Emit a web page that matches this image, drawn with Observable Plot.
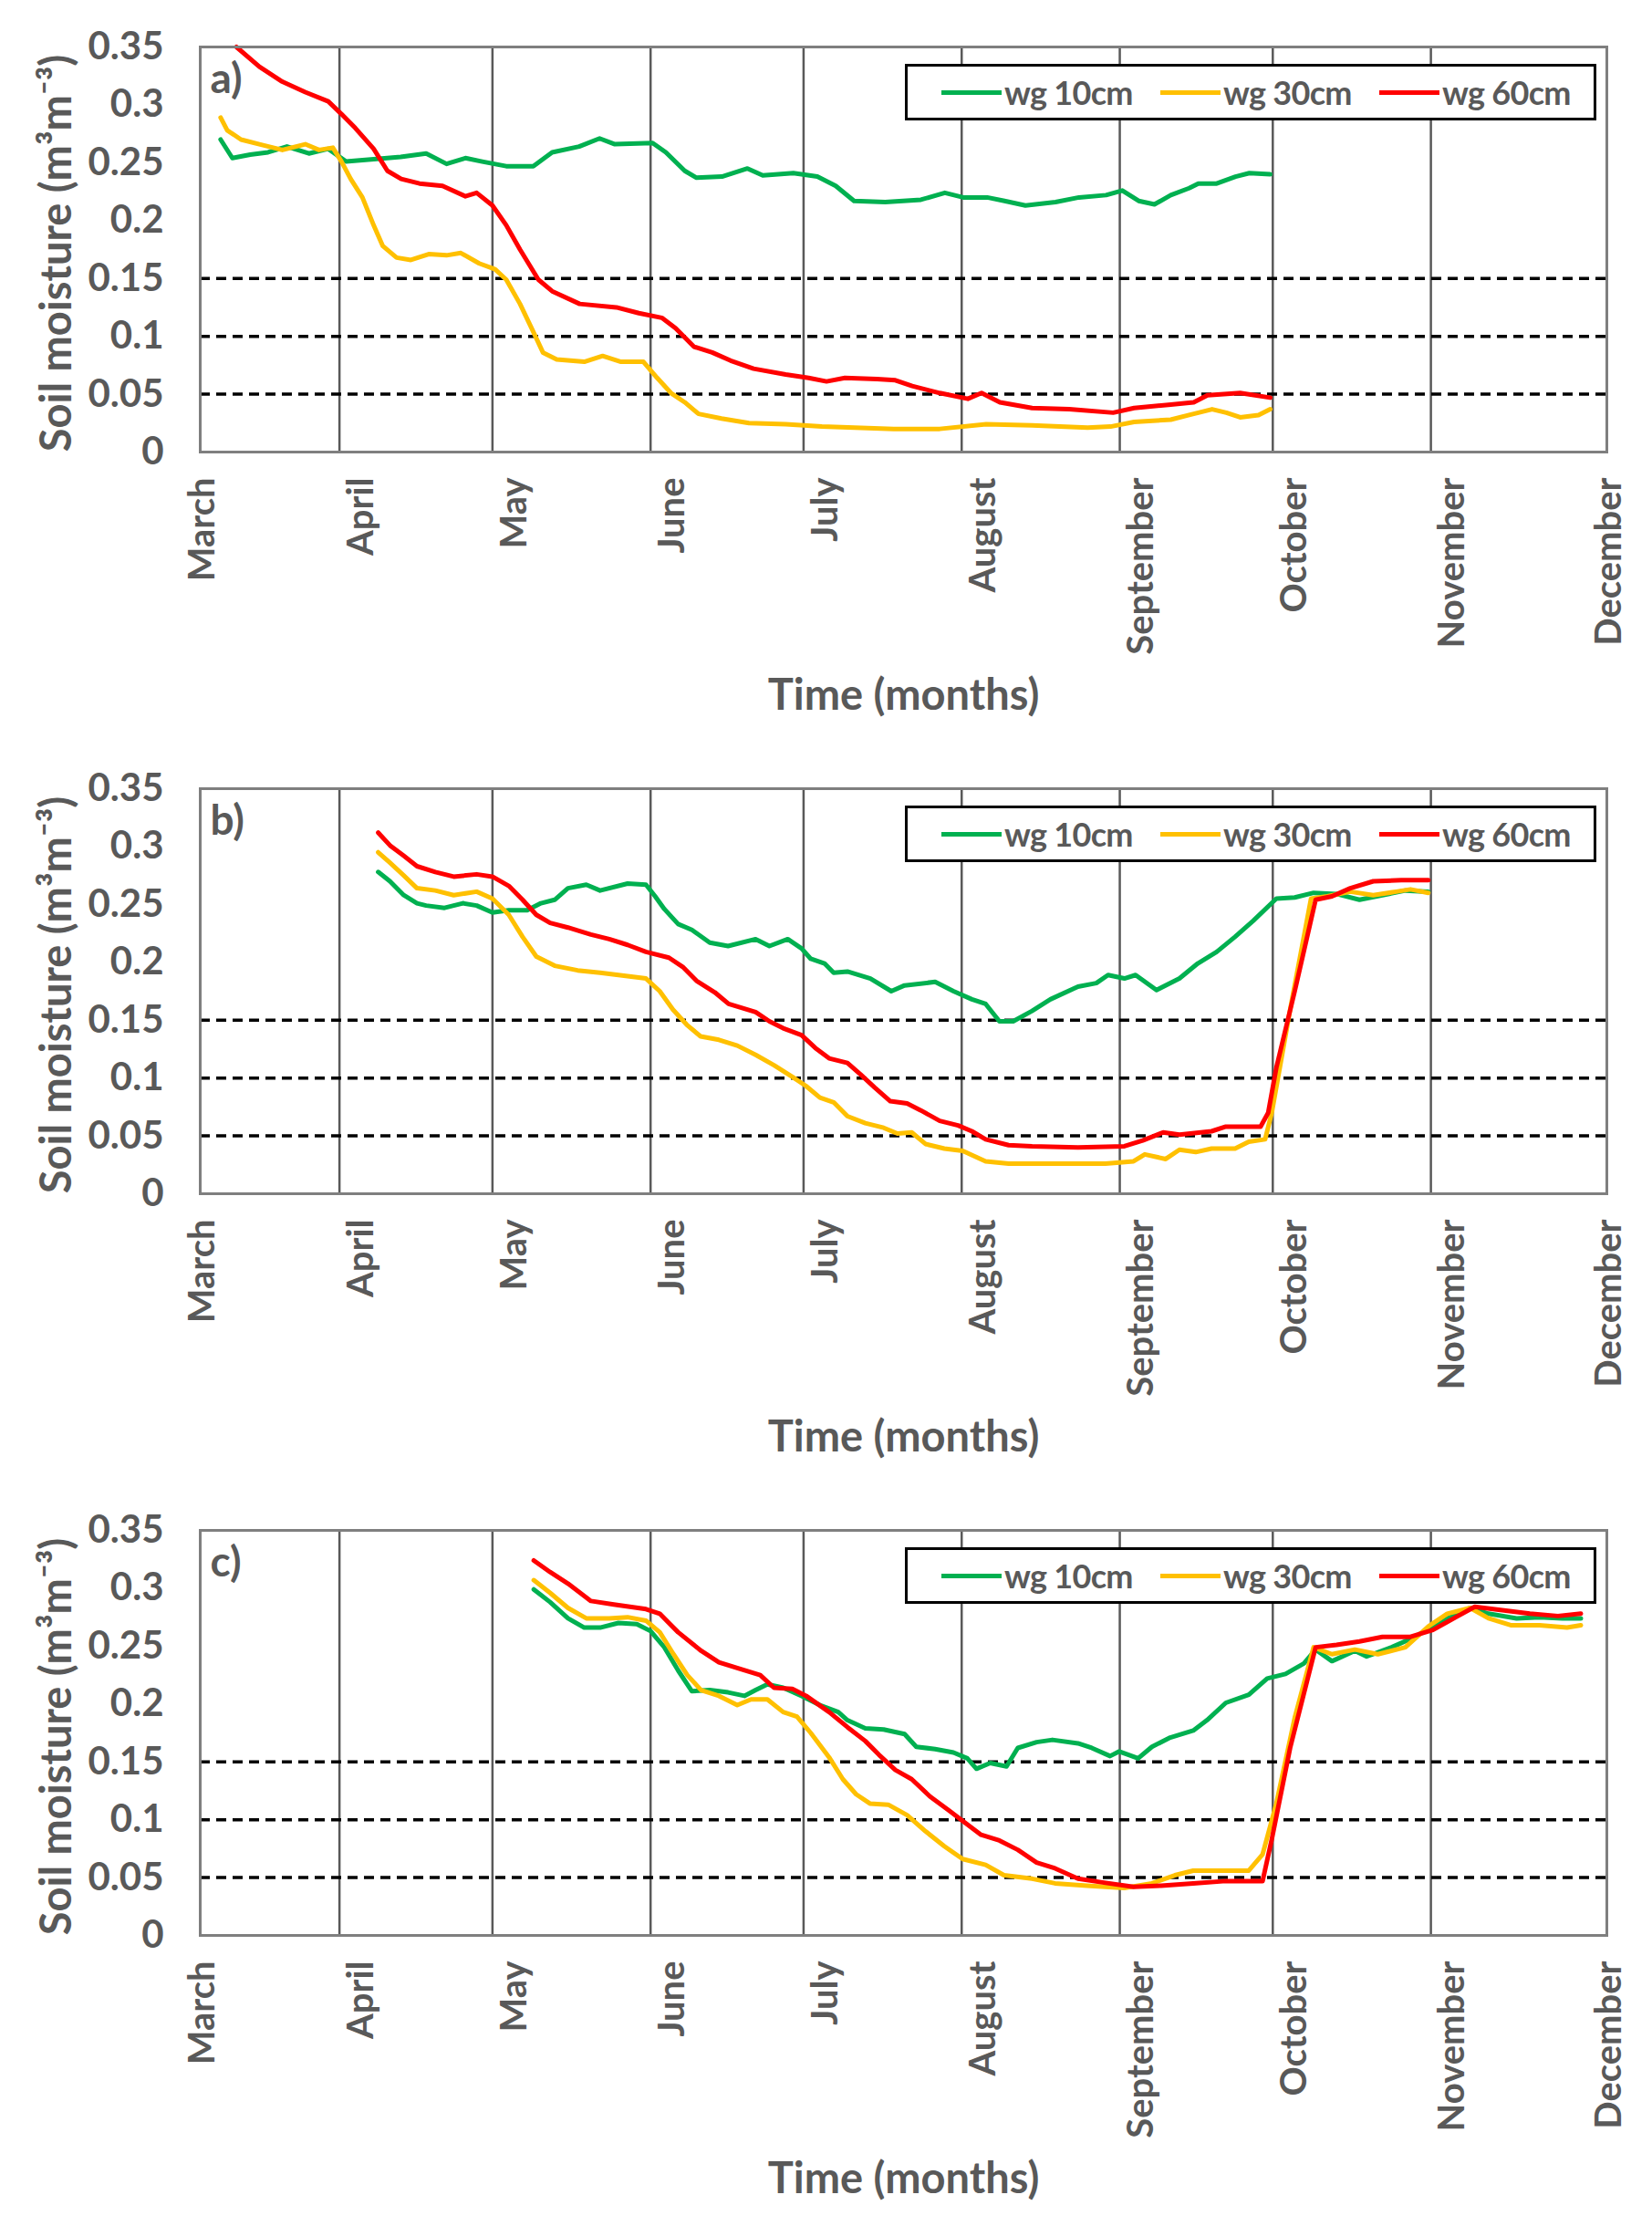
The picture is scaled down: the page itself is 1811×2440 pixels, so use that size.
<!DOCTYPE html>
<html>
<head>
<meta charset="utf-8">
<script src="https://cdn.jsdelivr.net/npm/d3@7"></script>
<script src="https://cdn.jsdelivr.net/npm/@observablehq/plot@0.6"></script>
<style>
  body { margin: 0; background: #fff; font-family: Lato, "Open Sans", sans-serif; }
  .panel { position: relative; width: 1811px; height: 813px; }
  .legend {
    position: absolute; left: 992px; top: 70px; width: 752px; height: 56px;
    border: 3px solid #000; background: #fff; overflow: hidden;
  }
  .legend .item { position: absolute; top: 0; height: 56px; display: flex; align-items: center; }
  .legend .sw { width: 66px; height: 5px; margin-right: 3px; }
  .legend .lb { font-size: 36px; letter-spacing: -0.7px; font-weight: bold; color: #595959; white-space: nowrap; }
</style>
</head>
<body>
<div id="charts"></div>
<script>
// series names and colours
const seriesNames = ["wg 10cm", "wg 30cm", "wg 60cm"]
const seriesColors = ["#00b050", "#ffc000", "#ff0000"]

// x axis: day of year, month gridlines
const monthNames = ["March", "April", "May", "June", "July", "August", "September", "October", "November", "December"]
const monthDays = [63.7, 91, 121, 152, 182, 213, 244, 274, 305, 339.5]
const yTicks = [0, 0.05, 0.1, 0.15, 0.2, 0.25, 0.3, 0.35]
const dashLevels = [0.05, 0.1, 0.15]

// panel a) [day of year, soil moisture]
const a10 = [[67.7,0.270],[70,0.254],[73.5,0.257],[77,0.259],[80.7,0.264],[85,0.258],[88.8,0.262],[92.3,0.251],[97.7,0.253],[103,0.255],[108,0.258],[112,0.249],[115.7,0.254],[119,0.251],[123.7,0.247],[129,0.247],[132.7,0.259],[138,0.264],[142,0.271],[145,0.266],[152.4,0.267],[155,0.259],[158.7,0.243],[161,0.237],[166,0.238],[171,0.245],[174,0.239],[180,0.241],[184.7,0.238],[188.3,0.230],[191.9,0.217],[198,0.216],[205,0.218],[209.7,0.224],[213.3,0.220],[218,0.220],[221.4,0.217],[225.5,0.213],[231.4,0.216],[236,0.220],[241.3,0.222],[244.5,0.226],[247.7,0.217],[250.8,0.214],[254,0.222],[257.6,0.228],[259.4,0.232],[263,0.232],[266.7,0.238],[269.4,0.241],[273.5,0.240]]
const a30 = [[67.7,0.289],[69,0.278],[71.7,0.270],[75.3,0.266],[79.8,0.261],[84.3,0.266],[87,0.261],[89.7,0.263],[91.4,0.251],[93.2,0.236],[95.5,0.220],[97.7,0.196],[99.5,0.178],[102.2,0.168],[105,0.166],[108.5,0.171],[112,0.170],[114.8,0.172],[118.4,0.163],[121.5,0.158],[123.7,0.149],[126.4,0.128],[129,0.104],[130.9,0.086],[133.6,0.080],[139,0.078],[142.6,0.083],[146.2,0.078],[150.6,0.078],[153.3,0.064],[156,0.051],[158.7,0.043],[161.4,0.033],[165.9,0.029],[171.3,0.025],[178.5,0.024],[185.6,0.022],[192,0.021],[199.7,0.020],[208.7,0.020],[217.8,0.024],[226.8,0.023],[237.7,0.021],[242.2,0.022],[246.8,0.026],[254,0.028],[257.6,0.032],[262.1,0.037],[264.9,0.034],[267.6,0.030],[271.2,0.032],[273.5,0.037]]
const a60 = [[70.8,0.350],[75.3,0.333],[79.8,0.320],[84.3,0.311],[88.8,0.303],[91.4,0.292],[94.1,0.280],[97.7,0.262],[100.4,0.243],[103.1,0.236],[106.7,0.232],[111.2,0.230],[115.7,0.221],[117.9,0.224],[121,0.213],[123.7,0.196],[126.4,0.175],[130,0.149],[132.7,0.139],[138.1,0.128],[145.3,0.125],[149.7,0.120],[154.2,0.116],[156.9,0.107],[160.5,0.091],[164.1,0.086],[167.7,0.079],[172.2,0.072],[178.5,0.067],[183,0.064],[186.5,0.061],[190.1,0.064],[196.4,0.063],[200,0.062],[203.3,0.057],[208.7,0.051],[214.2,0.046],[216.9,0.051],[220.5,0.043],[226.8,0.038],[234.1,0.037],[242.7,0.034],[246.8,0.038],[254,0.041],[258.5,0.043],[261.2,0.049],[267.6,0.051],[273.5,0.047]]

// panel b)
const b10 = [[98.6,0.278],[100.9,0.270],[103.6,0.258],[106.2,0.251],[108,0.249],[111.6,0.247],[115.2,0.251],[117.9,0.249],[121,0.243],[124.2,0.245],[127.8,0.245],[130.5,0.251],[133.2,0.254],[135.8,0.264],[139.4,0.267],[142.1,0.262],[147.5,0.268],[151.1,0.267],[152.9,0.257],[154.7,0.246],[157.4,0.233],[160.1,0.228],[163.6,0.217],[167.2,0.214],[172.6,0.220],[175.3,0.214],[178.9,0.220],[181.6,0.212],[183.4,0.203],[186.1,0.199],[187.9,0.191],[190.6,0.192],[195.1,0.186],[199.2,0.175],[201.8,0.180],[207.8,0.183],[211.4,0.175],[215,0.168],[217.7,0.164],[220.4,0.149],[223.1,0.149],[226.8,0.158],[230.4,0.168],[235.8,0.179],[239.4,0.182],[241.7,0.189],[244.9,0.186],[247.1,0.189],[251.2,0.176],[255.7,0.186],[259.3,0.199],[263,0.209],[266.6,0.222],[270.2,0.236],[274.7,0.255],[278.3,0.256],[282,0.260],[286.5,0.259],[291,0.254],[295.5,0.258],[300,0.262],[304.5,0.261]]
const b30 = [[98.6,0.295],[100.9,0.286],[103.6,0.275],[106.2,0.264],[109.8,0.262],[113.4,0.258],[117.9,0.261],[121,0.255],[124.2,0.241],[126.9,0.222],[129.6,0.205],[133.2,0.197],[137.7,0.193],[142.1,0.191],[147.5,0.188],[151.1,0.186],[153.8,0.175],[156.4,0.159],[159.1,0.146],[161.8,0.136],[165.4,0.133],[169,0.128],[172.6,0.120],[176.2,0.111],[179.8,0.101],[182.5,0.093],[185.2,0.083],[187.9,0.079],[190.6,0.067],[194.1,0.061],[197.7,0.057],[200.4,0.052],[203.2,0.053],[205.9,0.043],[209.6,0.039],[213.2,0.037],[217.7,0.028],[222.2,0.026],[231.3,0.026],[241.2,0.026],[246.7,0.028],[248.9,0.034],[253,0.030],[255.7,0.038],[258.9,0.036],[262,0.039],[266.6,0.039],[269.3,0.045],[272.5,0.047],[273.8,0.070],[277.4,0.159],[281.5,0.255],[284.7,0.257],[289.2,0.261],[293.7,0.258],[298.2,0.261],[301,0.263],[304.5,0.260]]
const b60 = [[98.6,0.312],[100.9,0.301],[103.6,0.292],[106.2,0.283],[109.8,0.278],[113.4,0.274],[117.9,0.276],[121,0.274],[124.2,0.266],[126.9,0.254],[129.6,0.241],[132.3,0.234],[135.8,0.230],[140.3,0.224],[143.9,0.220],[147.5,0.215],[151.1,0.209],[155.6,0.204],[158.3,0.196],[161,0.184],[164.6,0.174],[167.3,0.164],[172.6,0.157],[175.3,0.149],[178,0.143],[181.6,0.137],[184.3,0.126],[187,0.117],[190.6,0.113],[193.2,0.103],[195.9,0.092],[199,0.080],[202.3,0.078],[205,0.072],[208.7,0.063],[212.3,0.059],[215,0.054],[217.7,0.047],[222.2,0.042],[226.8,0.041],[235.8,0.040],[244.9,0.041],[248.5,0.046],[252.5,0.053],[255.7,0.051],[262,0.054],[264.8,0.058],[271.6,0.058],[273.1,0.070],[274.7,0.109],[278.3,0.175],[282.4,0.254],[285.6,0.257],[289.2,0.264],[293.7,0.270],[299.2,0.271],[304.5,0.271]]

// panel c)
const c10 = [[129.1,0.299],[132.3,0.288],[135.8,0.274],[139,0.266],[142.1,0.266],[145.7,0.270],[149.3,0.269],[152,0.263],[154.7,0.249],[157.4,0.229],[160.1,0.211],[163.6,0.212],[167.2,0.210],[170.4,0.207],[172.6,0.212],[174.9,0.217],[178,0.214],[181.6,0.207],[185.2,0.199],[188.8,0.193],[190.6,0.186],[194.1,0.179],[197.7,0.178],[201.8,0.174],[204.1,0.163],[207.8,0.161],[211.4,0.158],[214.1,0.153],[215.9,0.144],[218.6,0.149],[221.8,0.146],[224,0.162],[227.7,0.167],[230.8,0.169],[235.8,0.166],[238.5,0.162],[242.1,0.155],[243.9,0.159],[247.6,0.153],[250.3,0.163],[253.9,0.171],[258.4,0.177],[261.1,0.186],[264.8,0.201],[269.3,0.208],[272.9,0.222],[276.5,0.226],[280.1,0.235],[282.4,0.247],[285.6,0.237],[290.1,0.246],[292.4,0.241],[297.3,0.249],[301.9,0.258],[306.4,0.270],[312.7,0.283],[316.3,0.278],[321.8,0.274],[326.3,0.275],[330.8,0.274],[334.4,0.274]]
const c30 = [[129.1,0.307],[132.3,0.296],[135.8,0.283],[139.4,0.274],[143.9,0.274],[147.5,0.275],[151.1,0.272],[153.8,0.262],[156.5,0.243],[159.2,0.225],[161.9,0.212],[165.4,0.207],[169,0.199],[171.7,0.204],[174.9,0.204],[178,0.193],[180.7,0.189],[183.4,0.175],[187,0.154],[189.7,0.135],[192.3,0.122],[195,0.114],[198.6,0.113],[202.3,0.104],[205.9,0.090],[209.6,0.077],[213.2,0.066],[217.7,0.061],[221.3,0.052],[226.8,0.049],[231.3,0.045],[237.6,0.043],[244.9,0.041],[250.3,0.045],[254.8,0.052],[258.4,0.056],[263,0.056],[269.3,0.056],[272,0.070],[274.7,0.114],[278.3,0.188],[282,0.249],[285.6,0.243],[290.1,0.247],[294.6,0.243],[300,0.249],[304.5,0.267],[308.2,0.278],[312.7,0.283],[316.3,0.274],[320.8,0.268],[326.3,0.268],[331.7,0.266],[334.4,0.268]]
const c60 = [[129.1,0.324],[132.3,0.314],[135.8,0.304],[140.3,0.289],[144.8,0.286],[151.1,0.282],[153.8,0.278],[157.4,0.262],[161.9,0.246],[165.4,0.236],[169,0.231],[173.5,0.225],[176.2,0.214],[179.8,0.213],[182.5,0.207],[187,0.193],[190.6,0.180],[194.1,0.168],[196.8,0.156],[200,0.143],[203.2,0.135],[206.8,0.120],[210.5,0.108],[213.2,0.099],[216.8,0.087],[220.4,0.082],[224,0.074],[227.7,0.063],[231.3,0.058],[235.8,0.049],[240.3,0.046],[246.7,0.042],[252.1,0.043],[258.4,0.045],[264.8,0.047],[272,0.047],[273.8,0.083],[277.4,0.162],[282.4,0.249],[286.5,0.251],[291,0.254],[295.5,0.258],[301,0.258],[305.4,0.264],[309.9,0.275],[313.6,0.284],[319,0.281],[324.4,0.278],[329.9,0.276],[334.4,0.278]]

const monthByDay = new Map(monthDays.map((d, i) => [d, monthNames[i]]))
const innerDays = monthDays.slice(1, -1)
const endDays = [monthDays[0], monthDays[monthDays.length - 1]]

function panel(tag, s10, s30, s60) {
  // long table for Plot
  let rows = []
  ;[s10, s30, s60].forEach((s, k) => s.forEach(([day, value]) => rows.push({day, value, series: seriesNames[k]})))

  let axisOpts = {tickFormat: d => monthByDay.get(d), tickSize: 0, tickRotate: -90, tickPadding: 28, fontSize: 40, label: null}

  let chart = Plot.plot({
    width: 1811,
    height: 813,
    marginTop: 51,
    marginBottom: 318,
    marginLeft: 219,
    marginRight: 50,
    style: {fontFamily: "Lato, 'Open Sans', sans-serif", fontWeight: "bold", color: "#595959", background: "#fff"},
    x: {domain: endDays},
    y: {domain: [0, 0.35]},
    color: {domain: seriesNames, range: seriesColors},
    marks: [
      Plot.ruleX(innerDays, {stroke: "#595959", strokeWidth: 2.5}),
      Plot.ruleY(dashLevels, {stroke: "#000", strokeWidth: 3.5, strokeDasharray: "11,7"}),
      Plot.line(rows, {x: "day", y: "value", z: "series", stroke: "series", strokeWidth: 5}),
      Plot.frame({stroke: "#7f7f7f", strokeWidth: 3}),
      // month names sit a little right of the gridlines, except the two ends
      Plot.axisX({...axisOpts, ticks: innerDays, dx: 24}),
      Plot.axisX({...axisOpts, ticks: endDays, dx: 3}),
      Plot.axisY({ticks: yTicks, tickFormat: d => String(d), tickSize: 0, tickPadding: 40, fontSize: 42, label: null}),
      Plot.text([tag], {frameAnchor: "top-left", dx: 11, dy: 18, lineAnchor: "top", textAnchor: "start", fontSize: 46}),
      Plot.text(["Time (months)"], {frameAnchor: "bottom", dy: 282, fontSize: 47}),
      Plot.text(["Soil moisture (m³m⁻³)"], {frameAnchor: "left", dx: -157, dy: 4, rotate: -90, textAnchor: "middle", fontSize: 47})
    ]
  })

  let div = d3.select('#charts').append('div').attr('class', 'panel')
  div.append(() => chart)
  let legend = div.append('div').attr('class', 'legend')
  seriesNames.forEach((name, k) => {
    let item = legend.append('div').attr('class', 'item').style('left', (37 + k * 240) + 'px')
    item.append('div').attr('class', 'sw').style('background', seriesColors[k])
    item.append('div').attr('class', 'lb').text(name)
  })
}

panel("a)", a10, a30, a60)
panel("b)", b10, b30, b60)
panel("c)", c10, c30, c60)
</script>
</body>
</html>
